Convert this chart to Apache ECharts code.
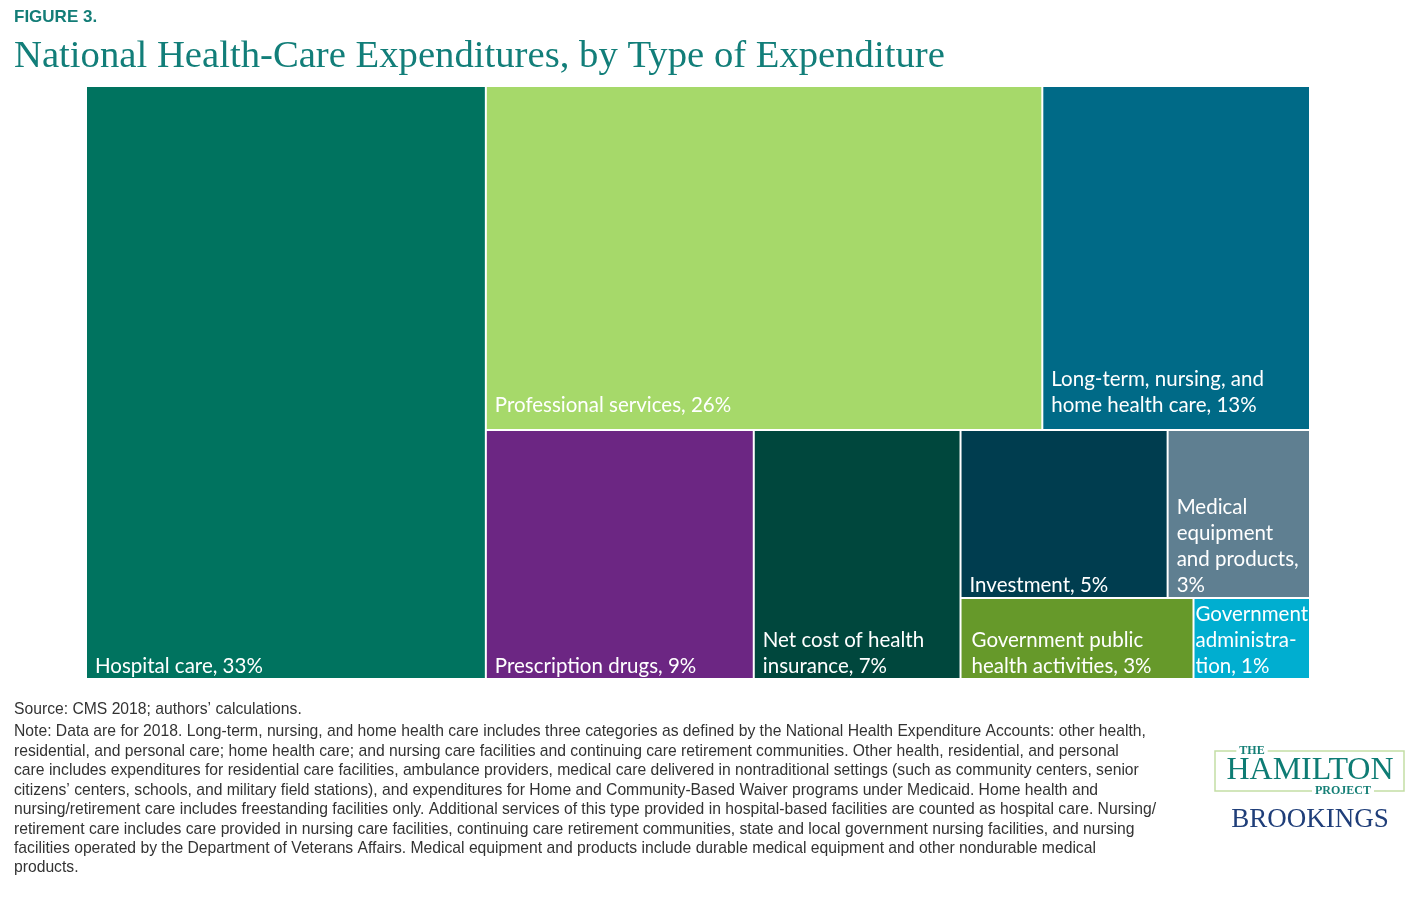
<!DOCTYPE html>
<html>
<head>
<meta charset="utf-8">
<script src="https://cdn.jsdelivr.net/npm/echarts@6/dist/echarts.min.js"></script>
<style>
  html, body { margin: 0; padding: 0; background: #ffffff; }
  #chart { width: 1420px; height: 897px; }
</style>
</head>
<body>
<div id="chart"></div>
<script>
// ---- Data ----
const categories = [
  'Hospital care',
  'Professional services',
  'Long-term, nursing, and home health care',
  'Prescription drugs',
  'Net cost of health insurance',
  'Investment',
  'Medical equipment and products',
  'Government public health activities',
  'Government administration'
];
// share of national health expenditures, percent
const shares = [32.7, 26.4, 12.7, 9.2, 7.1, 4.8, 3.3, 2.6, 1.3];
// label text as printed in each cell
const labelTexts = [
  'Hospital care, 33%',
  'Professional services, 26%',
  'Long-term, nursing, and\nhome health care, 13%',
  'Prescription drugs, 9%',
  'Net cost of health\ninsurance, 7%',
  'Investment, 5%',
  'Medical\nequipment\nand products,\n3%',
  'Government public\nhealth activities, 3%',
  'Government\nadministra-\ntion, 1%'
];
// grouping of categories (slice-and-dice hierarchy, indices into categories)
const grouping = [0, [[1, 2], [3, 4, [[5, 6], [7, 8]]]]];

// ---- Styles ----
const palette = ['#00735f', '#a6d96a', '#006a87', '#6c2683', '#00473d',
                 '#003d4f', '#5f7f91', '#66992a', '#00aed0'];
const labelLift = { 1: 12, 2: 12 };
const labelPadX = { 7: 10, 8: 1 };

// ---- Slice-and-dice layout computed from values ----
function total(node) {
  return Array.isArray(node) ? node.reduce((s, n) => s + total(n), 0) : shares[node];
}
function slice(node, x0, y0, x1, y1, depth, out) {
  if (!Array.isArray(node)) { out.push([x0, y0, x1, y1, node]); return; }
  const sum = total(node);
  let pos = depth % 2 === 0 ? x0 : y0;
  node.forEach(child => {
    const f = total(child) / sum;
    if (depth % 2 === 0) {
      const w = (x1 - x0) * f;
      slice(child, pos, y0, pos + w, y1, depth + 1, out);
      pos += w;
    } else {
      const h = (y1 - y0) * f;
      slice(child, x0, pos, x1, pos + h, depth + 1, out);
      pos += h;
    }
  });
}
const cells = [];
slice(grouping, 0, 0, 100, 100, 0, cells);

const chart = echarts.init(document.getElementById('chart'), null, { renderer: 'canvas' });

const noteLines = [
  'Note: Data are for 2018. Long-term, nursing, and home health care includes three categories as defined by the National Health Expenditure Accounts: other health,',
  'residential, and personal care; home health care; and nursing care facilities and continuing care retirement communities. Other health, residential, and personal',
  'care includes expenditures for residential care facilities, ambulance providers, medical care delivered in nontraditional settings (such as community centers, senior',
  'citizens\u2019 centers, schools, and military field stations), and expenditures for Home and Community-Based Waiver programs under Medicaid. Home health and',
  'nursing/retirement care includes freestanding facilities only. Additional services of this type provided in hospital-based facilities are counted as hospital care. Nursing/',
  'retirement care includes care provided in nursing care facilities, continuing care retirement communities, state and local government nursing facilities, and nursing',
  'facilities operated by the Department of Veterans Affairs. Medical equipment and products include durable medical equipment and other nondurable medical',
  'products.'
];

const noteFont = '15.7px "Liberation Sans", Arial, sans-serif';
const graphics = [
  { type: 'text', x: 14, y: 17, style: { text: 'FIGURE 3.', fill: '#137d77', font: 'bold 17px "Liberation Sans", Arial, sans-serif', letterSpacing: 2.2, verticalAlign: 'middle' } },
  { type: 'text', x: 14, y: 57, style: { text: 'National Health-Care Expenditures, by Type of Expenditure', fill: '#127e79', font: '38.7px "Liberation Serif", "Times New Roman", serif', verticalAlign: 'middle' } },
  { type: 'text', x: 14, y: 710, style: { text: 'Source: CMS 2018; authors\u2019 calculations.', fill: '#333', font: noteFont, verticalAlign: 'middle' } }
];
noteLines.forEach((t, i) => {
  graphics.push({ type: 'text', x: 14, y: 732 + i * 19.45, style: { text: t, fill: '#333', font: noteFont, verticalAlign: 'middle' } });
});
// logo
graphics.push(
  { type: 'rect', shape: { x: 1215, y: 751, width: 189, height: 40 }, style: { fill: 'none', stroke: '#c3dea5', lineWidth: 1.5 } },
  { type: 'text', x: 1252, y: 751, style: { text: 'THE', fill: '#157f76', font: 'bold 12px "Liberation Serif", serif', letterSpacing: 1.5, align: 'center', verticalAlign: 'middle', backgroundColor: '#fff', padding: [0, 3] } },
  { type: 'text', x: 1310, y: 771, style: { text: 'HAMILTON', fill: '#0e7c74', font: '32px "Liberation Serif", serif', align: 'center', verticalAlign: 'middle' } },
  { type: 'text', x: 1343, y: 791, style: { text: 'PROJECT', fill: '#157f76', font: 'bold 12px "Liberation Serif", serif', letterSpacing: 1.5, align: 'center', verticalAlign: 'middle', backgroundColor: '#fff', padding: [0, 3] } },
  { type: 'text', x: 1310, y: 820, style: { text: 'BROOKINGS', fill: '#1f3e79', font: '27px "Liberation Serif", serif', align: 'center', verticalAlign: 'middle' } }
);

chart.setOption({
  animation: false,
  backgroundColor: '#ffffff',
  grid: { left: 86, top: 86, width: 1224, height: 593 },
  xAxis: { type: 'value', min: 0, max: 100, show: false },
  yAxis: { type: 'value', min: 0, max: 100, inverse: true, show: false },
  graphic: graphics,
  series: [{
    type: 'custom',
    name: 'National health expenditures',
    data: cells,
    encode: { x: [0, 2], y: [1, 3] },
    renderItem: function (params, api) {
      const p0 = api.coord([api.value(0), api.value(1)]);
      const p1 = api.coord([api.value(2), api.value(3)]);
      const idx = api.value(4);
      const x = Math.min(p0[0], p1[0]) + 1;
      const y = Math.min(p0[1], p1[1]) + 1;
      const w = Math.abs(p1[0] - p0[0]) - 2;
      const h = Math.abs(p1[1] - p0[1]) - 2;
      const padX = labelPadX[idx] != null ? labelPadX[idx] : 8;
      const lift = labelLift[idx] || 0;
      return {
        type: 'group',
        children: [
          { type: 'rect', shape: { x: x, y: y, width: w, height: h }, style: { fill: palette[idx] } },
          { type: 'text', style: {
              text: labelTexts[idx], x: x + padX, y: y + h - lift + 1,
              fill: '#ffffff', font: '20.5px Lato, "Open Sans", sans-serif',
              lineHeight: 26, align: 'left', verticalAlign: 'bottom'
            } }
        ]
      };
    }
  }]
});
</script>
</body>
</html>
